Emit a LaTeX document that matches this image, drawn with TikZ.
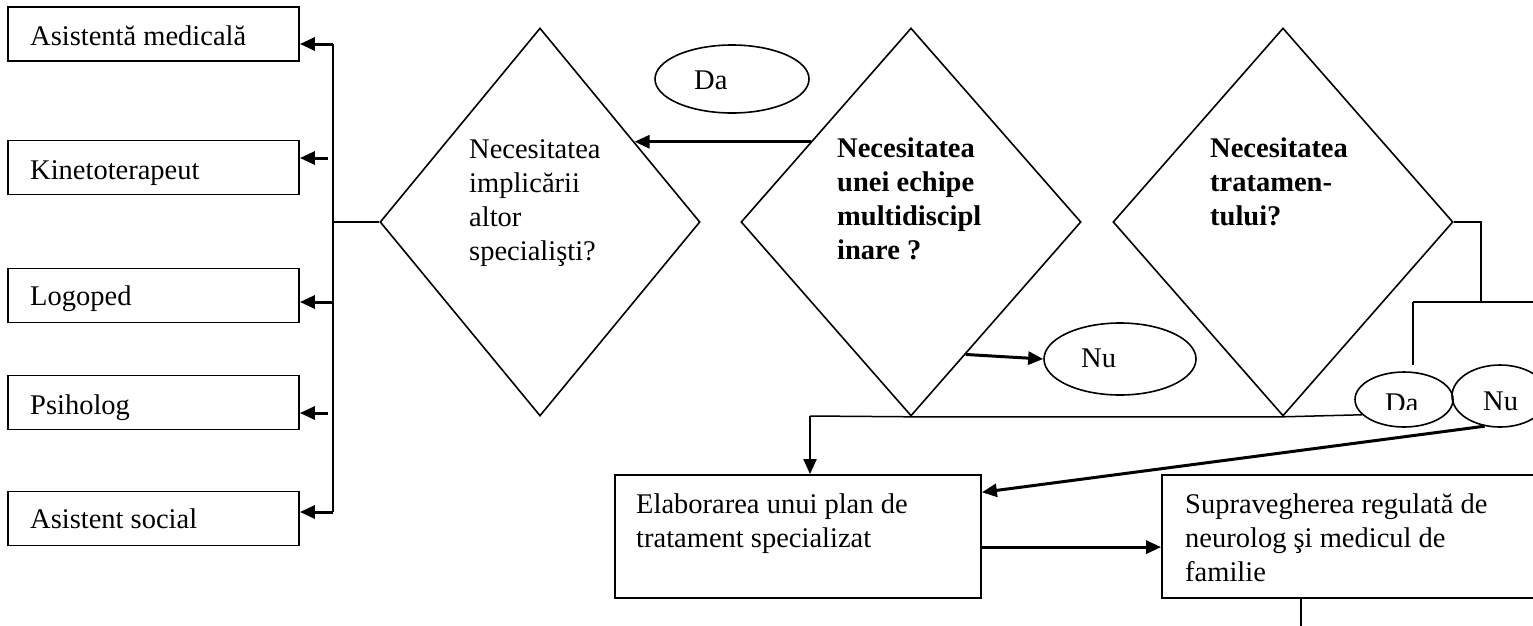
\documentclass[tikz,border=0pt]{standalone}
\usepackage{fontspec}
\setmainfont{Liberation Serif}
\usetikzlibrary{shapes.geometric,arrows.meta,calc}
\begin{document}
\begin{tikzpicture}[x=1pt,y=-1pt,
  box/.style={draw, line width=1.8pt, inner sep=0pt},
  dia/.style={draw, diamond, line width=1.6pt, inner sep=0pt},
  ell/.style={draw, ellipse, line width=1.6pt, inner sep=0pt},
  txt/.style={inner sep=0pt, anchor=base west, font={\fontsize{28.5}{34}\selectfont}},
  btxt/.style={inner sep=0pt, anchor=base west, font={\fontsize{28.5}{34}\selectfont\bfseries}},
  thinline/.style={line width=1.5pt},
  arr/.style={line width=3pt, -{Triangle[length=15pt,width=13pt]}},
  arrthin/.style={line width=2pt, -{Triangle[length=15pt,width=13pt]}},
]
\useasboundingbox (0,0) rectangle (1533,625);
\fill[white] (0,0) rectangle (1533,625);
\clip (0,0) rectangle (1533,625);

% left boxes
\node[box, minimum width=291pt, minimum height=54pt] (b1) at (153.5,34) {};
\node[box, minimum width=291pt, minimum height=54pt] (b2) at (153.5,167.5) {};
\node[box, minimum width=291pt, minimum height=54pt] (b3) at (153.5,295.5) {};
\node[box, minimum width=291pt, minimum height=54pt] (b4) at (153.5,402.5) {};
\node[box, minimum width=291pt, minimum height=54pt] (b5) at (153.5,518.5) {};
\node[txt] (l1) at (30,45.6) {Asistentă medicală};
\node[txt] (l2) at (30,179) {Kinetoterapeut};
\node[txt] (l3) at (30,305.5) {Logoped};
\node[txt] (l4) at (30,414) {Psiholog};
\node[txt] (l5) at (30,528) {Asistent social};

% diamonds
\node[dia, minimum width=320pt, minimum height=388pt] (d1) at (540,222) {};
\node[dia, minimum width=340pt, minimum height=388pt] (d2) at (911,222) {};
\node[dia, minimum width=340pt, minimum height=388pt] (d3) at (1283,222) {};
\node[txt] (t1) at (469,158) {\begin{tabular}[t]{@{}l@{}}Necesitatea\\implicării\\altor\\specialişti?\end{tabular}};
\node[btxt] (t2) at (837,157) {\begin{tabular}[t]{@{}l@{}}Necesitatea\\unei echipe\\multidiscipl\\inare ?\end{tabular}};
\node[btxt] (t3) at (1210,157) {\begin{tabular}[t]{@{}l@{}}Necesitatea\\tratamen-\\tului?\end{tabular}};

% ellipses
\node[ell, minimum width=154pt, minimum height=68pt] (da1) at (732,79) {};
\node[txt] (tda1) at (694,89) {Da};
\node[ell, minimum width=152pt, minimum height=72pt] (nu1) at (1120,359) {};
\node[txt] (tnu1) at (1081,367) {Nu};
\node[ell, minimum width=98pt, minimum height=55pt] (da2) at (1404,399.5) {};
\node[ell, minimum width=96pt, minimum height=62pt] (nu2) at (1500,396) {};
\begin{scope}
  \clip (1370,380) rectangle (1440,409);
  \node[txt] (tda2) at (1385,412) {Da};
\end{scope}
\node[txt] (tnu2) at (1483,410) {Nu};

% bottom boxes
\node[box, minimum width=366pt, minimum height=123pt] (elab) at (798,536.5) {};
\node[box, minimum width=383pt, minimum height=123pt] (supr) at (1353.5,536.5) {};
\node[txt] (te) at (636,513) {\begin{tabular}[t]{@{}l@{}}Elaborarea unui plan de\\tratament specializat\end{tabular}};
\node[txt] (ts) at (1185,513) {\begin{tabular}[t]{@{}l@{}}Supravegherea regulată de\\neurolog şi medicul de\\familie\end{tabular}};

% left connectors
\coordinate (v1) at (333,44);
\coordinate (v2) at (328,158);
\coordinate (v3) at (333,302);
\coordinate (v4) at (328,413);
\coordinate (v5) at (333,512);
\draw[line width=2.2pt] (v1) -- (v5);
\draw[thinline] (d1.west) -- (d1.west -| v1);
\draw[arr] (v1) -- (v1 -| b1.east);
\draw[arr] (v2) -- (v2 -| b2.east);
\draw[arr] (v3) -- (v3 -| b3.east);
\draw[arr] (v4) -- (v4 -| b4.east);
\draw[arr] (v5) -- (v5 -| b5.east);

% decision arrows
\draw[arr] ($(d2.west)!0.412!(d2.north)$) -- ($(d1.east)!0.412!(d1.north)$);
\draw[arr] ($(d2.east)!0.68!(d2.south)$) -- (nu1.west);

% right connectors
\coordinate (r1) at (1481,222);
\coordinate (r2) at (1481,302);
\coordinate (r3) at (1413,302);
\coordinate (r4) at (1545,302);
\coordinate (r5) at (1413,365);
\draw[thinline] (d3.east) -- (r1) -- (r2);
\draw[thinline] (r3) -- (r4);
\draw[thinline] (r3) -- (r5);

\coordinate (j) at (810,416);
\draw[thinline] (da2.200) -- (d3.south) -- (d2.south) -- (j);
\draw[arrthin] (j) -- (j |- elab.north);
\draw[arr] (nu2.243) -- ($(elab.north east)!0.146!(elab.south east)$);
\draw[arr] ($(elab.north east)!0.585!(elab.south east)$) -- ($(supr.north west)!0.585!(supr.south west)$);

\coordinate (s1) at (1301,640);
\draw[thinline] (s1 |- supr.south) -- (s1);
\end{tikzpicture}
\end{document}
